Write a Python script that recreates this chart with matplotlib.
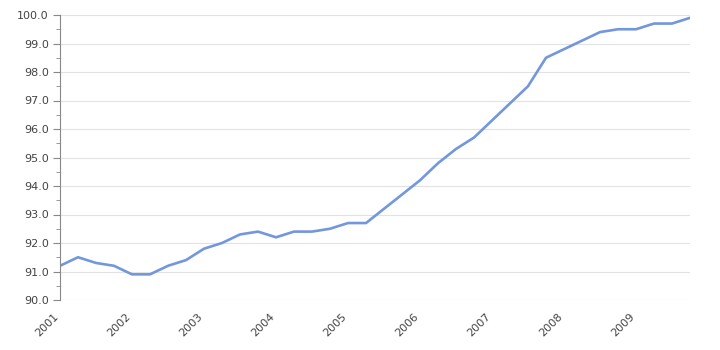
import matplotlib
matplotlib.use("Agg")
import matplotlib.pyplot as plt
import matplotlib.transforms as mtransforms
from matplotlib.ticker import MultipleLocator

# quarterly index, 2001 Q1 .. 2009 Q4
years = list(range(2001, 2010))
quarters = [2001 + i / 4 for i in range(36)]
values = [91.2, 91.5, 91.3, 91.2, 90.9, 90.9, 91.2, 91.4,
          91.8, 92.0, 92.3, 92.4, 92.2, 92.4, 92.4, 92.5,
          92.7, 92.7, 93.2, 93.7, 94.2, 94.8, 95.3, 95.7,
          96.3, 96.9, 97.5, 98.5, 98.8, 99.1, 99.4, 99.5,
          99.5, 99.7, 99.7, 99.9]

fig = plt.figure(figsize=(7.2, 3.5), dpi=100)
ax = fig.add_axes([60 / 720, 1 - 300 / 350, 630 / 720, 285 / 350])

ax.plot(quarters, values, color="#7297dc", lw=1.9, solid_joinstyle="round")

ax.set_xlim(2001, 2009.75)
ax.set_ylim(90, 100)

ax.yaxis.set_major_locator(MultipleLocator(1))
ax.yaxis.set_minor_locator(MultipleLocator(0.5))
ax.yaxis.set_major_formatter(lambda v, p: f"{v:.1f}")
ax.grid(axis="y", color="#e2e2e2", lw=0.8)
ax.set_axisbelow(True)

ax.set_xticks(years)
ax.set_xticklabels([str(y) for y in years], rotation=45, ha="right",
                   rotation_mode="anchor")
ax.tick_params(axis="x", length=0, pad=8, labelsize=8, labelcolor="#444444")
# nudge the rotated year labels a bit left, like the original
shift = mtransforms.ScaledTranslation(-7 / 100, 0, fig.dpi_scale_trans)
for lbl in ax.get_xticklabels():
    lbl.set_transform(lbl.get_transform() + shift)

ax.tick_params(axis="y", which="major", length=5, color="#888888",
               labelsize=8, labelcolor="#444444", pad=3)
ax.tick_params(axis="y", which="minor", length=3, color="#888888")

for s in ["top", "right", "bottom"]:
    ax.spines[s].set_visible(False)
ax.spines["left"].set_color("#888888")

fig.savefig("out.png", dpi=100)
